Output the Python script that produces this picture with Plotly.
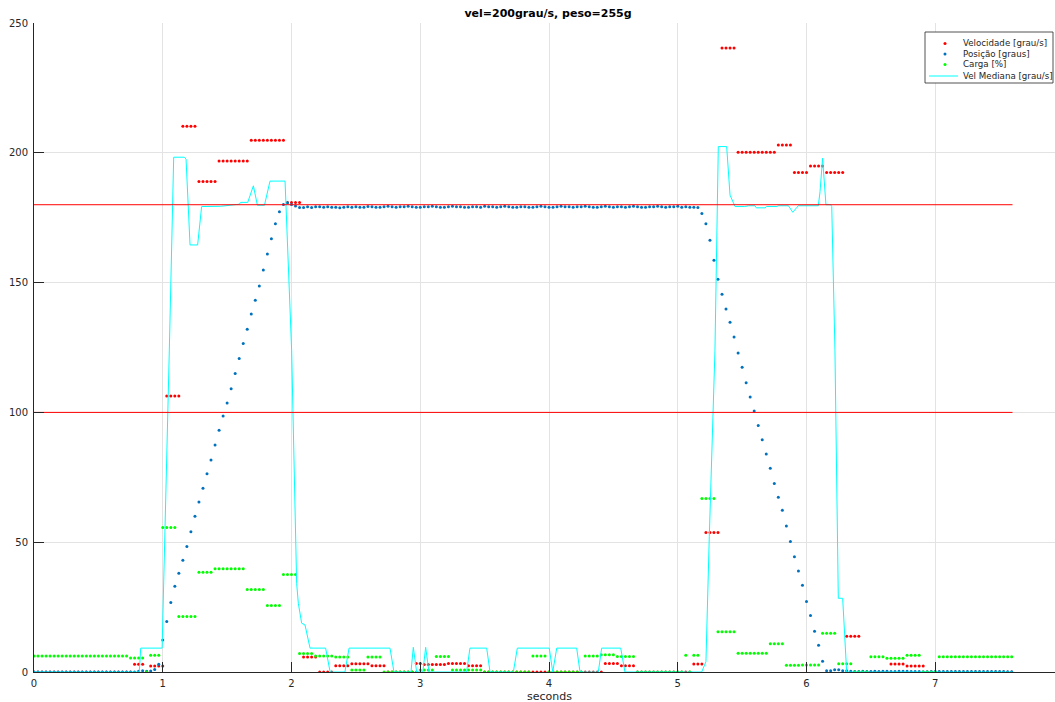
import plotly.graph_objects as go

# ---------------- data ----------------
dt = 0.03125  # sample period [s]

# Velocidade [grau/s]  (one value per sample, k = 0..243)
vel = [
    0, 0, 0, 0, 0, 0, 0, 0, 0, 0,
    0, 0, 0, 0, 0, 0, 0, 0, 0, 0,
    0, 0, 0, 0, 0, 3.0, 3.0, 3.0, 0, 2.3,
    2.3, 2.3, 2.3, 106.3, 106.3, 106.3, 106.3, 210.2, 210.2, 210.2,
    210.2, 188.9, 188.9, 188.9, 188.9, 188.9, 196.8, 196.8, 196.8, 196.8,
    196.8, 196.8, 196.8, 196.8, 204.8, 204.8, 204.8, 204.8, 204.8, 204.8,
    204.8, 204.8, 204.8, 180.9, 180.9, 180.9, 180.9, 5.8, 5.8, 5.8,
    5.8, 0, 0, 0, 0, 2.4, 2.4, 2.4, 2.4, 3.2,
    3.2, 3.2, 3.2, 3.2, 2.4, 2.4, 2.4, 2.4, 0, 0,
    0, 0, 0, 0, 0, 3.3, 3.3, 2.9, 2.9, 2.9,
    2.9, 2.9, 2.9, 3.3, 3.3, 3.3, 3.3, 3.3, 2.4, 2.4,
    2.4, 2.4, 0, 0, 0, 0, 0, 0, 0, 0,
    0, 0, 0, 0, 0, 0, 0, 0, 0, 0,
    0, 0, 0, 0, 0, 0, 0, 0, 0, 0,
    0, 0, 3.3, 3.3, 3.3, 3.3, 2.4, 2.4, 2.4, 2.4,
    0, 0, 0, 0, 0, 0, 0, 0, 0, 0,
    0, 0, 0, 0, 3.1, 3.1, 3.1, 53.7, 53.7, 53.7,
    53.7, 240.4, 240.4, 240.4, 240.4, 200.2, 200.2, 200.2, 200.2, 200.2,
    200.2, 200.2, 200.2, 200.2, 200.2, 203.0, 203.0, 203.0, 203.0, 192.4,
    192.4, 192.4, 192.4, 194.9, 194.9, 194.9, 194.9, 192.4, 192.4, 192.4,
    192.4, 192.4, 13.8, 13.8, 13.8, 13.8, 0, 0, 0, 0,
    0, 0, 0, 3.1, 3.1, 3.1, 3.1, 2.3, 2.3, 2.3,
    2.3, 2.3, 0, 0, 0, 0, 0, 0, 0, 0,
    0, 0, 0, 0, 0, 0, 0, 0, 0, 0,
    0, 0, 0, 0,
]

# Posição [graus]
pos = [
    0, 0, 0, 0, 0, 0, 0, 0, 0, 0,
    0, 0, 0, 0, 0, 0, 0, 0, 0, 0,
    0, 0, 0, 0, 0, 0, 0.3, 0.5, 0.3, 0.4,
    1.0, 3.0, 12.3, 19.5, 26.8, 33.0, 38.0, 43.0, 48.3, 54.0,
    60.0, 65.5, 70.8, 76.4, 81.7, 87.4, 93.1, 98.6, 103.6, 109.1,
    115.0, 120.8, 126.5, 132.0, 137.9, 143.2, 148.7, 154.9, 161.0, 166.9,
    172.7, 177.3, 180.1, 180.8, 180.1, 179.5, 178.9, 178.9, 179.2, 178.9,
    179.2, 179.2, 179.0, 179.2, 179.0, 179.0, 178.8, 179.0, 179.2, 179.0,
    179.2, 179.0, 179.0, 179.3, 179.2, 179.0, 179.0, 179.2, 179.4, 179.2,
    179.0, 179.2, 179.2, 179.4, 179.2, 179.0, 179.0, 179.2, 179.2, 179.4,
    179.2, 179.0, 179.0, 179.2, 179.4, 179.2, 179.2, 179.0, 179.0, 179.2,
    179.2, 179.0, 179.4, 179.2, 179.2, 179.0, 179.2, 179.4, 179.2, 179.0,
    179.0, 179.2, 179.2, 179.0, 179.0, 179.2, 179.4, 179.2, 179.0, 179.0,
    179.2, 179.4, 179.2, 179.2, 179.0, 179.2, 179.2, 179.4, 179.2, 179.0,
    179.0, 179.2, 179.4, 179.2, 179.0, 179.2, 179.2, 179.0, 179.2, 179.4,
    179.2, 179.0, 179.0, 179.2, 179.2, 179.4, 179.2, 179.0, 179.2, 179.2,
    179.4, 179.0, 179.2, 179.0, 179.0, 178.9, 176.6, 172.7, 166.3, 158.6,
    151.3, 145.5, 139.8, 134.7, 129.0, 122.9, 117.4, 111.4, 105.9, 100.5,
    95.0, 89.5, 84.0, 78.5, 72.6, 67.3, 62.3, 56.2, 50.3, 44.4,
    38.9, 33.4, 27.2, 21.8, 15.7, 10.3, 4.1, 0.5, 0.5, 0.9,
    0.9, 0.5, 0.5, 0.3, 0.2, 0.2, 0.3, 0.2, 0.2, 0.3,
    0.2, 0.3, 0.3, 0.2, 0.2, 0.3, 0.3, 0.3, 0.2, 0.2,
    0.2, 0.1, 0.1, 0.2, 0.2, 0.2, 0.2, 0.2, 0.2, 0.2,
    0.2, 0.2, 0.2, 0.2, 0.2, 0.2, 0.2, 0.2, 0.2, 0.2,
    0.2, 0.2, 0.1, 0.1,
]

# Carga [%]
carga = [
    6.2, 6.2, 6.2, 6.2, 6.2, 6.2, 6.2, 6.2, 6.2, 6.2,
    6.2, 6.2, 6.2, 6.2, 6.2, 6.2, 6.2, 6.2, 6.2, 6.2,
    6.2, 6.2, 6.2, 6.2, 5.4, 5.4, 5.4, 5.4, 0, 6.5,
    6.5, 6.5, 55.7, 55.7, 55.7, 55.7, 21.4, 21.4, 21.4, 21.4,
    21.4, 38.4, 38.4, 38.4, 38.4, 39.8, 39.8, 39.8, 39.8, 39.8,
    39.8, 39.8, 39.8, 31.8, 31.8, 31.8, 31.8, 31.8, 25.6, 25.6,
    25.6, 25.6, 37.6, 37.6, 37.6, 37.6, 7.1, 7.1, 7.1, 7.1,
    6.2, 6.2, 6.2, 6.2, 6.2, 5.8, 5.8, 5.8, 5.8, 0.8,
    0.8, 0.8, 0.8, 5.8, 5.8, 5.8, 5.8, 0, 0, 0,
    0, 0, 0, 0, 0, 0, 0.8, 0.8, 0.8, 0.8,
    6.0, 6.0, 6.0, 6.0, 0.8, 0.8, 0.8, 0.8, 0.8, 0.8,
    0.8, 0.8, 0, 0, 0, 0, 0, 0, 0, 0,
    0, 0, 0, 0, 6.2, 6.2, 6.2, 6.2, 0, 0,
    0, 0, 0, 0, 0, 0, 0, 6.2, 6.2, 6.2,
    6.2, 6.6, 6.6, 6.6, 6.6, 6.0, 6.0, 6.0, 6.0, 6.0,
    0, 0, 0, 0, 0, 0, 0, 0, 0, 0,
    0, 0, 6.5, 0, 6.5, 6.5, 66.8, 66.8, 66.8, 66.8,
    15.5, 15.5, 15.5, 15.5, 15.5, 7.2, 7.2, 7.2, 7.2, 7.2,
    7.2, 7.2, 7.2, 10.9, 10.9, 10.9, 10.9, 2.6, 2.6, 2.6,
    2.6, 2.7, 2.7, 2.7, 2.7, 2.7, 14.9, 14.9, 14.9, 14.9,
    3.2, 3.2, 3.2, 3.2, 0, 0, 0, 0, 5.9, 5.9,
    5.9, 5.9, 5.3, 5.3, 5.3, 5.3, 5.3, 6.5, 6.5, 6.5,
    6.5, 0, 0, 0, 0, 5.9, 5.9, 5.9, 5.9, 5.9,
    5.9, 5.9, 5.9, 5.9, 5.9, 5.9, 5.9, 5.9, 5.9, 5.9,
    5.9, 5.9, 5.9, 5.9,
]

# Vel Mediana [grau/s] -- line vertices (time, value)
med_t = [0, 0.818, 0.829, 0.995, 1.051, 1.085, 1.167, 1.181, 1.212, 1.271,
         1.302, 1.45, 1.56, 1.595, 1.605, 1.66, 1.704, 1.735, 1.79, 1.833,
         1.95, 2.001, 2.040, 2.053, 2.079, 2.105, 2.144, 2.265, 2.30, 2.415,
         2.447, 2.765, 2.796, 2.928, 2.946, 2.972, 3.020, 3.042, 3.068, 3.36,
         3.386, 3.516, 3.542, 3.723, 3.754, 4.002, 4.029, 4.06, 4.215, 4.241,
         4.383, 4.409, 4.557, 4.59, 5.186, 5.219, 5.245, 5.289, 5.315, 5.38,
         5.406, 5.445, 5.52, 5.55, 5.60, 5.61, 5.678, 5.69, 5.77, 5.78,
         5.86, 5.87, 5.893, 5.924, 5.935, 6.092, 6.105, 6.125, 6.151, 6.188,
         6.196, 6.221, 6.247, 6.281, 6.312, 7.6]
med_v = [0, 0, 9.2, 9.2, 124, 198.3, 198.3, 197.6, 164.5, 164.5,
         179.3, 179.4, 180.0, 180.2, 180.9, 180.9, 187.3, 179.8, 179.8, 189.1,
         189.1, 124, 34.2, 26.5, 18.8, 18.1, 9.2, 9.2, 0, 0,
         9.2, 9.2, 0, 0, 9.5, 0, 0, 9.5, 0, 0,
         9.2, 9.2, 0, 0, 9.2, 9.2, 0, 9.2, 9.2, 0,
         0, 9.2, 9.2, 0, 0, 4.0, 52.1, 124, 202.4, 202.4,
         183.7, 179.3, 179.3, 179.6, 179.6, 178.8, 178.8, 179.3, 179.3, 179.6,
         179.6, 178.8, 177.1, 178.9, 179.6, 179.6, 185, 197.9, 180, 180,
         179.3, 124, 28.4, 28.4, 0, 0]

# reference limits (horizontal red lines)
limites = [180, 100]
lim_t = [0, 7.6]

nomes = ["Velocidade [grau/s]", "Posição [graus]", "Carga [%]", "Vel Mediana [grau/s]"]
cores = ["#ff0000", "#0072bd", "#00ff00", "#00ffff"]

titulo = "vel=200grau/s, peso=255g"
x_label = "seconds"
x_ticks = [0, 1, 2, 3, 4, 5, 6, 7]
y_ticks = [0, 50, 100, 150, 200, 250]

# ---------------- figure ----------------
t = [k * dt for k in range(len(vel))]

W, H = 1055, 702
ML, MR, MT, MB = 34, 0, 23, 30
FONT = "DejaVu Sans"
AX = "#262626"
PX_PER_S = 128.75
X_MAX = (W - ML - MR) / PX_PER_S


def px(xs):  # page x -> paper coordinate
    return (xs - ML) / (W - ML - MR)


def py(ys):  # page y -> paper coordinate
    return (H - MB - ys) / (H - MT - MB)


fig = go.Figure()
for serie, nome, cor in zip([vel, pos, carga], nomes[:3], cores[:3]):
    fig.add_trace(go.Scatter(x=t, y=serie, mode="markers", name=nome,
                             marker=dict(color=cor, size=3, line=dict(width=0)),
                             showlegend=False))
fig.add_trace(go.Scatter(x=med_t, y=med_v, mode="lines", name=nomes[3],
                         line=dict(color=cores[3], width=1), showlegend=False))
for v in limites:
    fig.add_trace(go.Scatter(x=lim_t, y=[v, v], mode="lines",
                             line=dict(color="#ff0000", width=1),
                             showlegend=False, hoverinfo="skip"))

axis_common = dict(
    ticks="inside", ticklen=10, tickwidth=1, tickcolor=AX,
    showline=True, linecolor=AX, linewidth=1,
    showgrid=True, gridcolor="#e3e3e3", gridwidth=1, zeroline=False,
    tickfont=dict(family=FONT, size=10, color=AX), automargin=False,
)
fig.update_xaxes(range=[0, X_MAX], tickvals=x_ticks, ticklabelstandoff=2, **axis_common)
fig.update_yaxes(range=[0, 250], tickvals=y_ticks, ticklabelstandoff=3, **axis_common)

# custom legend (MATLAB style, compact)
LX = 925
shapes = [dict(type="rect", xref="paper", yref="paper",
               x0=px(LX), x1=px(LX + 128), y0=py(83), y1=py(32),
               line=dict(color=AX, width=0.8), fillcolor="white", layer="above")]
annotations = []
rows = [43.5, 54, 64.5, 76]
for i, (nome, cor) in enumerate(zip(nomes, cores)):
    yy = rows[i]
    if i < 3:
        shapes.append(dict(type="circle", xref="paper", yref="paper",
                           x0=px(LX + 18.5), x1=px(LX + 21.5), y0=py(yy + 1.5), y1=py(yy - 1.5),
                           line=dict(width=0), fillcolor=cor, layer="above"))
    else:
        shapes.append(dict(type="line", xref="paper", yref="paper",
                           x0=px(LX + 4), x1=px(LX + 33), y0=py(yy), y1=py(yy),
                           line=dict(color=cor, width=1), layer="above"))
    annotations.append(dict(text=nome, xref="paper", yref="paper",
                            x=px(LX + 36), y=py(yy), xanchor="left", yanchor="middle",
                            showarrow=False, font=dict(family=FONT, size=8.7, color=AX)))

# x-axis label
annotations.append(dict(text=x_label, xref="paper", yref="paper",
                        x=px(549), y=py(696), xanchor="center", yanchor="middle",
                        showarrow=False, font=dict(family=FONT, size=11, color=AX)))

fig.update_layout(
    width=W, height=H,
    margin=dict(l=ML, r=MR, t=MT, b=MB, pad=0),
    paper_bgcolor="white", plot_bgcolor="white",
    title=dict(text="<b>" + titulo + "</b>", x=548 / W, xref="container", xanchor="center",
               y=1 - 13 / H, yref="container", yanchor="middle",
               font=dict(family=FONT, size=11, color="#000000")),
    shapes=shapes, annotations=annotations,
    showlegend=False,
)

# remove the default page margin so the figure fills the window exactly
fig.write_html("out.html",
               config={"displayModeBar": False},
               post_script="document.body.style.margin='0';document.body.style.overflow='hidden';")
